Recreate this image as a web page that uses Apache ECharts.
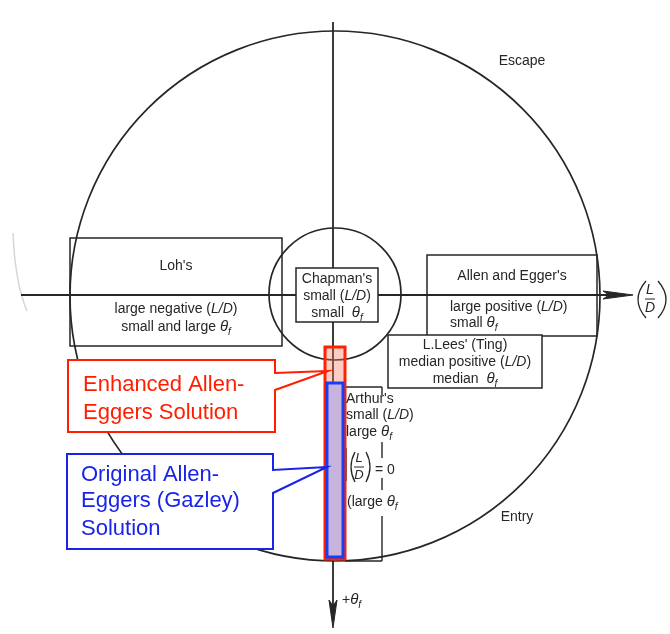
<!DOCTYPE html>
<html><head><meta charset="utf-8">
<script src="https://cdn.jsdelivr.net/npm/echarts@6/dist/echarts.min.js"></script>
<style>html,body{margin:0;padding:0;background:#fff}#c{width:670px;height:634px}</style>
</head><body><div id="c"></div>
<script>
// Diagram coordinates: x along (L/D) (right +), y along theta_f (down +), origin at the axes crossing
const xRange = [-333, 337];
const yRange = [-295, 339];

// Circles: centre and radius
const circleCenters = [[2, 1], [2, -1]];
const circleRadii = [265, 66];

// Axes
const axisSegments = [[-312, 0, 282, 0], [0, -273, 0, 312]];
const arrowHeads = [
  [[300, 0], [270, -4], [276, 0], [270, 4]],
  [[0, 333], [-4, 305], [0, 311], [4, 305]]
];

// Solution-region boxes [x1, y1, x2, y2]
const boxNames = ["Loh's", "Chapman's", "Allen and Egger's", "L.Lees' (Ting)"];
const boxRects = [[-263, -57, -51, 51], [-37, -27, 45, 27], [94, -40, 264, 41], [55, 40, 209, 93]];
const boxFilled = [false, true, false, true];

// Arthur's open box + bracket
const arthurSegments = [[12, 92, 49, 92], [49, 92, 49, 100], [49, 147, 49, 163], [49, 183, 49, 195],
  [49, 221, 49, 266], [12, 266, 49, 266], [13, 153, 13, 186]];

// Scan artefact at far left
const scanMark = [[-320, -62], [-318, -35], [-314, -10], [-309, 8], [-306, 16]];

// Highlighted solution bars
const barNames = ['Enhanced Allen-Eggers', 'Original Allen-Eggers (Gazley)'];
const barX = [[-8, 12], [-6, 10]];
const barY = [[52, 264], [88, 262]];

// Callouts
const calloutOutlines = [
  [[-265, 65], [-58, 65], [-58, 78], [-5, 76], [-58, 95], [-58, 137], [-265, 137]],
  [[-266, 159], [-60, 159], [-60, 175], [-6, 172], [-60, 198], [-60, 254], [-266, 254]]
];
const calloutLines = [['Enhanced Allen-', 'Eggers Solution'], ['Original Allen-', 'Eggers (Gazley)', 'Solution']];
const calloutTextX = [-250, -252];
const calloutTextY = [[90, 118], [180, 206, 234]];

// Diagram labels [text, x, y, align]
const TH = '{th|θ}{f|f}';
const LD = '({i|L/D})';
const labels = [
  ['Escape', 189, -234, 'center'],
  ['Entry', 184, 222, 'center'],
  ["Loh's", -157, -29, 'center'],
  ['large negative ' + LD, -157, 14, 'center'],
  ['small and large ' + TH, -157, 32, 'center'],
  ["Chapman's", 4, -16, 'center'],
  ['small ' + LD, 4, 1, 'center'],
  ['small  ' + TH, 4, 18, 'center'],
  ["Allen and Egger's", 179, -19, 'center'],
  ['large positive ' + LD, 117, 12, 'left'],
  ['small ' + TH, 117, 28, 'left'],
  ["L.Lees' (Ting)", 132, 50, 'center'],
  ['median positive ' + LD, 132, 67, 'center'],
  ['median  ' + TH, 132, 84, 'center'],
  ["Arthur's", 13, 104, 'left'],
  ['small ' + LD, 13, 120, 'left'],
  ['large ' + TH, 13, 137, 'left'],
  ['= 0', 42, 175, 'left'],
  ['(large ' + TH, 14, 207, 'left'],
  ['+' + TH, 9, 305, 'left']
];

// Stacked L over D: [centre x, centre y, half gap, font size]
const fractions = [[317, 4, 9, 14], [26, 172, 8.5, 13]];
// Tall parentheses: [end x, top y, bottom y, control x]
const parens = [[313, -14, 23, 297], [325, -14, 23, 341], [22, 157, 187, 14], [33, 157, 187, 41]];

const ink = '#262626';
const font = "'Liberation Sans', Arial, sans-serif";
const rich = {
  i: {fontStyle: 'italic', fontSize: 14, fontFamily: font},
  th: {fontStyle: 'italic', fontSize: 15, fontFamily: font},
  f: {fontStyle: 'italic', fontSize: 10, fontFamily: font, verticalAlign: 'bottom', lineHeight: 20}
};

function custom(z, data, renderItem) {
  return {type: 'custom', coordinateSystem: 'cartesian2d', z, silent: true, animation: false, clip: false, data, renderItem};
}
function seg(api) {
  const a = api.coord([api.value(0), api.value(1)]), b = api.coord([api.value(2), api.value(3)]);
  return {x1: a[0], y1: a[1], x2: b[0], y2: b[1]};
}

const series = [];
// scan mark
series.push(custom(1, [scanMark[0]], (p, api) => ({
  type: 'polyline', shape: {points: scanMark.map(q => api.coord(q)), smooth: 0.4},
  style: {fill: 'none', stroke: '#d6d6d6', lineWidth: 1.5}
})));
// circles
series.push(custom(2, circleCenters.map((c, i) => [c[0], c[1], circleRadii[i]]), (p, api) => {
  const c = api.coord([api.value(0), api.value(1)]);
  const r = Math.abs(api.size([api.value(2), 0])[0]);
  return {type: 'circle', shape: {cx: c[0], cy: c[1], r}, style: {fill: 'none', stroke: ink, lineWidth: 1.7}};
}));
// axes
series.push(custom(2, axisSegments, (p, api) => ({type: 'line', shape: seg(api), style: {stroke: ink, lineWidth: 1.8}})));
series.push(custom(2, arrowHeads.map(h => h[0]), (p, api) => ({
  type: 'polygon', shape: {points: arrowHeads[p.dataIndex].map(q => api.coord(q))}, style: {fill: ink, stroke: ink, lineWidth: 1}
})));
// boxes
series.push(custom(3, boxRects, (p, api) => {
  const s = seg(api);
  return {type: 'rect', shape: {x: s.x1, y: s.y1, width: s.x2 - s.x1, height: s.y2 - s.y1},
    style: {fill: boxFilled[p.dataIndex] ? '#fff' : 'none', stroke: ink, lineWidth: 1.5}};
}));
series.push(custom(3, arthurSegments, (p, api) => ({type: 'line', shape: seg(api), style: {stroke: ink, lineWidth: 1.4}})));
// bars
const barStroke = ['#ff2200', '#1c3cf2'];
const barFill = ['rgba(250,120,95,0.38)', '#c6b4dc'];
series.push(custom(5, barX.map((x, i) => [x[0], barY[i][0], x[1], barY[i][1]]), (p, api) => {
  const s = seg(api);
  return {type: 'rect', shape: {x: s.x1, y: s.y1, width: s.x2 - s.x1, height: s.y2 - s.y1},
    style: {fill: barFill[p.dataIndex], stroke: barStroke[p.dataIndex], lineWidth: 3}};
}));
// callouts
const calloutColor = ['#ff1e00', '#1a24e6'];
series.push(custom(6, calloutOutlines.map(o => o[0]), (p, api) => ({
  type: 'polygon', shape: {points: calloutOutlines[p.dataIndex].map(q => api.coord(q))},
  style: {fill: '#fff', stroke: calloutColor[p.dataIndex], lineWidth: 2}
})));
const calloutTexts = [];
calloutLines.forEach((ls, k) => ls.forEach((t, j) => calloutTexts.push([calloutTextX[k], calloutTextY[k][j], k, t])));
series.push(custom(7, calloutTexts.map(t => [t[0], t[1]]), (p, api) => {
  const t = calloutTexts[p.dataIndex];
  const c = api.coord([api.value(0), api.value(1)]);
  return {type: 'text', x: c[0], y: c[1], style: {text: t[3], fill: calloutColor[t[2]], fontSize: 22, fontFamily: font, align: 'left', verticalAlign: 'middle'}};
}));
// labels
series.push(custom(7, labels.map(l => [l[1], l[2]]), (p, api) => {
  const l = labels[p.dataIndex];
  const c = api.coord([api.value(0), api.value(1)]);
  return {type: 'text', x: c[0], y: c[1], style: {text: l[0], fill: ink, fontSize: 14, fontFamily: font, align: l[3], verticalAlign: 'middle', rich}};
}));
// fractions L / D
series.push(custom(7, fractions.map(f => [f[0], f[1]]), (p, api) => {
  const f = fractions[p.dataIndex];
  const c = api.coord([f[0], f[1]]);
  const top = api.coord([f[0], f[1] - f[2]]), bot = api.coord([f[0], f[1] + f[2]]);
  const base = {fill: ink, fontFamily: font, align: 'center', verticalAlign: 'middle', fontStyle: 'italic', fontSize: f[3]};
  return {type: 'group', children: [
    {type: 'text', x: top[0], y: top[1], style: Object.assign({text: 'L'}, base)},
    {type: 'text', x: bot[0], y: bot[1], style: Object.assign({text: 'D'}, base)},
    {type: 'line', shape: {x1: c[0] - 5, y1: c[1], x2: c[0] + 5, y2: c[1]}, style: {stroke: ink, lineWidth: 1}}
  ]};
}));
// tall parentheses
series.push(custom(7, parens.map(q => [q[0], q[1]]), (p, api) => {
  const q = parens[p.dataIndex];
  const a = api.coord([q[0], q[1]]), b = api.coord([q[0], q[2]]), cp = api.coord([q[3], (q[1] + q[2]) / 2]);
  return {type: 'bezierCurve', shape: {x1: a[0], y1: a[1], x2: b[0], y2: b[1], cpx1: cp[0], cpy1: cp[1]},
    style: {fill: 'none', stroke: ink, lineWidth: 1.3}};
}));

const chart = echarts.init(document.getElementById('c'));
chart.setOption({
  animation: false,
  backgroundColor: '#fff',
  grid: {left: 0, right: 0, top: 0, bottom: 0},
  xAxis: {type: 'value', min: xRange[0], max: xRange[1], show: false},
  yAxis: {type: 'value', min: yRange[0], max: yRange[1], inverse: true, show: false},
  series
});
</script>
</body></html>
